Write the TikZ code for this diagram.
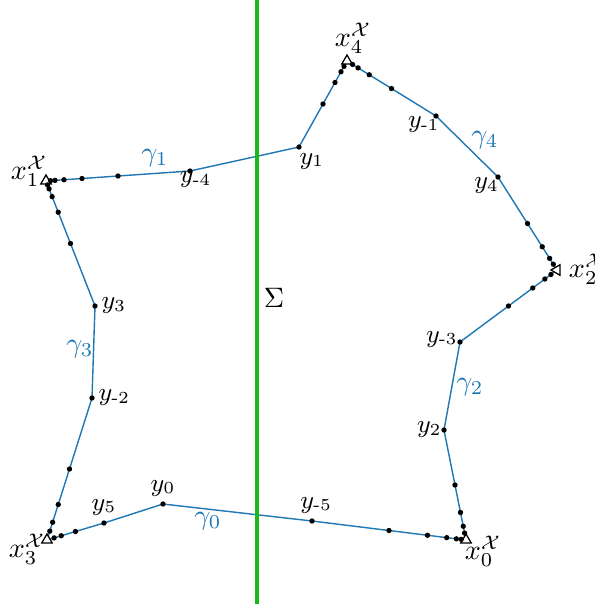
\documentclass[tikz,border=0pt]{standalone}
\usepackage{amsmath}
\usepackage{amssymb}
\usepackage{xcolor}
\usepackage{tikz}
\usetikzlibrary{positioning, shapes.geometric, calc, backgrounds}

\definecolor{curveblue}{RGB}{31,119,180}
\definecolor{sepgreen}{RGB}{25,185,25}

\begin{document}
\begin{tikzpicture}[
        x=0.0125cm, y=-0.0125cm,
        vtx/.style={draw, fill=white, regular polygon, regular polygon sides=3, inner sep=0pt, minimum size=4.3pt, line width=0.45pt},
        pt/.style={circle, fill=black, inner sep=0pt, minimum size=1.9pt},
        ylab/.style={font=\small, inner sep=1pt},
        glab/.style={text=curveblue},
        seg/.style={curveblue, line width=0.5pt},
    ]
    \useasboundingbox (0,0) rectangle (595,604);

    %% Separator
    \coordinate (stop) at (257,0);
    \coordinate (sbot) at (257,604);
    \draw[sepgreen, line width=1.3pt] (stop) -- (sbot);
    \node (sigma) at (274,298) {$\Sigma$};

    %% Corner points
    \node[vtx] (x0) at (466,540) {};
    \node[vtx] (x1) at (46,181) {};
    \node[vtx, shape border rotate=90] (x2) at (557,270) {};
    \node[vtx] (x3) at (47,540) {};
    \node[vtx] (x4) at (347,61) {};

    %% Points y
    \node[pt] (y0) at (163,504) {};
    \node[pt] (y1) at (299,147) {};
    \node[pt] (y2) at (444,430) {};
    \node[pt] (y3) at (95,306) {};
    \node[pt] (y4) at (498,177) {};
    \node[pt] (y5) at (104,523) {};
    \node[pt] (ym1) at (436,116) {};
    \node[pt] (ym2) at (92,398) {};
    \node[pt] (ym3) at (460,342) {};
    \node[pt] (ym4) at (190,171) {};
    \node[pt] (ym5) at (312,521) {};

    %% Closed curve
    \begin{scope}[on background layer]
        \draw[seg] (x3.center) -- (y5.center) -- (y0.center) -- (ym5.center) -- (x0.center)
            -- (y2.center) -- (ym3.center) -- (x2.center) -- (y4.center) -- (ym1.center)
            -- (x4.center) -- (y1.center) -- (ym4.center) -- (x1.center) -- (y3.center)
            -- (ym2.center) -- cycle;
    \end{scope}

    %% Dots halving towards the corners
    \foreach \a/\b/\n in {x0/ym5/5, x0/y2/4, x2/ym3/4, x2/y4/4, x4/ym1/4,
                          x4/y1/4, x1/ym4/5, x1/y3/5, x3/y5/3, x3/ym2/4} {
        \foreach \k in {1,...,\n} {
            \node[pt] (d\a\b\k) at ($(\a)!{pow(2,-\k)}!(\b)$) {};
        }
    }

    %% Labels of y
    \node[ylab, above=0.5pt of y0] (ly0) {$y_0$};
    \node[ylab, anchor=north west, xshift=-1pt, yshift=-1pt] (ly1) at (y1) {$y_1$};
    \node[ylab, left=-1.5pt of y2] (ly2) {$y_2$};
    \node[ylab, right=0pt of y3] (ly3) {$y_3$};
    \node[ylab, anchor=north east, inner sep=0pt, xshift=0.5pt] (ly4) at (y4) {$y_4$};
    \node[ylab, above=0.5pt of y5] (ly5) {$y_5$};
    \node[ylab, anchor=north east, inner sep=0pt, xshift=1.5pt] (lym1) at (ym1) {$y_{\text{-}1}$};
    \node[ylab, right=0pt of ym2] (lym2) {$y_{\text{-}2}$};
    \node[ylab, left=-1.5pt of ym3, yshift=1pt] (lym3) {$y_{\text{-}3}$};
    \node[ylab, anchor=north, inner sep=0pt, xshift=2pt] (lym4) at (ym4) {$y_{\text{-}4}$};
    \node[ylab, above=0.5pt of ym5, xshift=1.5pt] (lym5) {$y_{\text{-}5}$};

    %% Labels of x
    \node (lx0) at (483,551) {$x_0^{\mathcal{X}}$};
    \node (lx1) at (29,171) {$x_1^{\mathcal{X}}$};
    \node[anchor=west] (lx2) at (559,269) {$x_2^{\mathcal{X}}$};
    \node (lx3) at (27,549) {$x_3^{\mathcal{X}}$};
    \node (lx4) at (353,38) {$x_4^{\mathcal{X}}$};

    %% Arc names
    \node[glab] (g0) at (208,521) {$\gamma_0$};
    \node[glab] (g1) at (155,158) {$\gamma_1$};
    \node[glab] (g2) at (470,387) {$\gamma_2$};
    \node[glab] (g3) at (80,349) {$\gamma_3$};
    \node[glab] (g4) at (485,140) {$\gamma_4$};

\end{tikzpicture}
\end{document}
